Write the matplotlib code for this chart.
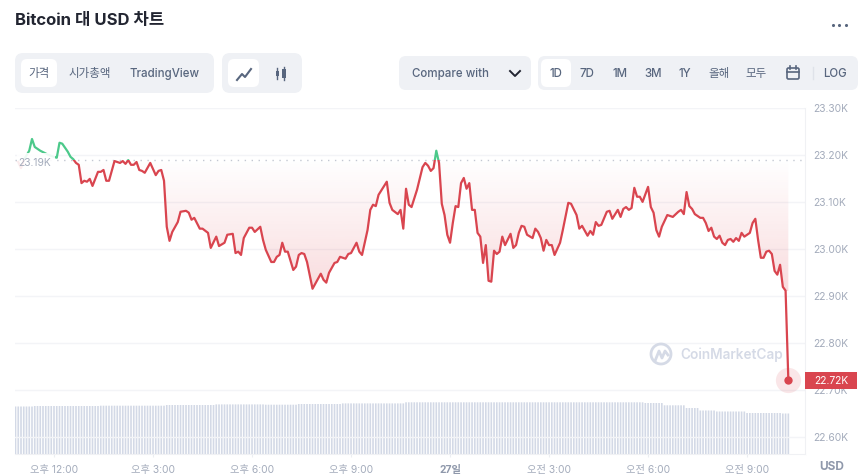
import numpy as np
import matplotlib
matplotlib.use("Agg")
import matplotlib.pyplot as plt
from matplotlib.patches import FancyBboxPatch, Rectangle, Circle
from matplotlib.path import Path

plt.rcParams['font.family'] = ['Inter', 'Noto Sans CJK KR', 'DejaVu Sans']

# minutes after 12:00 / price in USD
minutes = [
    -65, -60, -55, -45, -40, -35, -25, -10, 5, 10, 15, 25,
    30, 35, 40, 45, 50, 55, 60, 65, 70, 80,
    85, 90, 95, 100, 110, 115, 120, 125, 130, 135,
    140, 145, 150, 155, 160, 165, 175, 180, 185, 190,
    195, 200, 205, 210, 215, 225, 230, 240, 245, 250,
    255, 265, 270, 280, 285, 295, 300, 310, 315, 325,
    330, 335, 340, 345, 355, 360, 365, 375, 380, 385,
    395, 400, 405, 410, 415, 420, 425, 435, 440, 445,
    450, 455, 460, 470, 485, 490, 495, 500, 510, 515,
    520, 530, 535, 540, 550, 555, 560, 570, 575, 580,
    585, 590, 605, 610, 615, 625, 630, 635, 640, 645,
    650, 660, 670, 675, 680, 685, 690, 695, 700, 705,
    710, 715, 720, 725, 730, 735, 740, 745, 750, 755,
    760, 765, 770, 775, 780, 785, 790, 795, 800, 805,
    810, 815, 820, 830, 835, 840, 845, 850, 855, 860,
    870, 875, 880, 885, 890, 895, 900, 905, 910, 920,
    925, 935, 940, 950, 955, 960, 970, 975, 980, 985,
    990, 995, 1005, 1010, 1015, 1025, 1030, 1035, 1040, 1045,
    1050, 1055, 1060, 1065, 1070, 1080, 1085, 1090, 1095, 1100,
    1105, 1115, 1125, 1135, 1140, 1145, 1150, 1155, 1160, 1165,
    1175, 1180, 1185, 1190, 1195, 1200, 1205, 1210, 1215, 1220,
    1225, 1230, 1235, 1240, 1245, 1250, 1255, 1265, 1270, 1275,
    1280, 1285, 1290, 1295, 1300, 1305, 1310, 1315, 1320, 1325,
    1330, 1335,
]
prices = [
    23185, 23172, 23189, 23209, 23234, 23217, 23209, 23200, 23194, 23226, 23224, 23207,
    23196, 23191, 23183, 23179, 23140, 23145, 23143, 23149, 23134, 23164,
    23164, 23168, 23145, 23145, 23187, 23185, 23183, 23187, 23181, 23189,
    23179, 23179, 23185, 23168, 23166, 23162, 23183, 23170, 23157, 23166,
    23168, 23145, 23047, 23017, 23036, 23057, 23079, 23081, 23077, 23062,
    23066, 23043, 23043, 23034, 23002, 23026, 23006, 23013, 23030, 23032,
    22991, 22994, 22987, 23023, 23045, 23045, 23036, 23047, 23019, 22998,
    22972, 22972, 22983, 22987, 23013, 22994, 22994, 22955, 22962, 22987,
    22991, 22989, 22972, 22915, 22947, 22934, 22928, 22949, 22970, 22972,
    22983, 22979, 22989, 22991, 23013, 22994, 22987, 23040, 23083, 23094,
    23091, 23115, 23143, 23098, 23083, 23074, 23083, 23043, 23128, 23094,
    23089, 23126, 23174, 23183, 23177, 23166, 23172, 23209, 23183, 23096,
    23072, 23030, 23013, 23055, 23091, 23089, 23140, 23151, 23128, 23140,
    23083, 23083, 23034, 23026, 22970, 23008, 22932, 22930, 22996, 22989,
    22994, 23026, 23008, 23032, 23002, 23008, 23034, 23049, 23047, 23030,
    23023, 23043, 23036, 23023, 22996, 23019, 23008, 23008, 22987, 23013,
    23040, 23098, 23096, 23072, 23043, 23049, 23028, 23038, 23030, 23057,
    23049, 23051, 23079, 23081, 23064, 23083, 23068, 23085, 23089, 23083,
    23087, 23130, 23111, 23111, 23100, 23132, 23089, 23077, 23040, 23026,
    23047, 23072, 23068, 23079, 23083, 23074, 23121, 23091, 23085, 23074,
    23066, 23066, 23055, 23038, 23045, 23026, 23021, 23028, 23013, 23008,
    23019, 23021, 23015, 23023, 23017, 23034, 23026, 23034, 23055, 23064,
    23019, 22981, 22981, 22994, 22996, 22989, 22953, 22945, 22966, 22919,
    22911, 22721,
]
open_price = 23190

# volume bars, read as runs of about the same height (arbitrary units)
vol_levels = [47.5, 48, 48.3, 49, 49.6, 49.3, 50, 50.6, 51.7, 51, 48.7, 46, 43.5, 42.5, 41, 40.5]
vol_counts = [7, 24, 24, 18, 18, 12, 16, 23, 87, 7, 8, 5, 6, 11, 13, 3]

y_ticks = [22600, 22700, 22800, 22900, 23000, 23100, 23200, 23300]
y_labels = ['22.60K', '22.70K', '22.80K', '22.90K', '23.00K', '23.10K', '23.20K', '23.30K']
x_ticks = [0, 180, 360, 540, 720, 900, 1080, 1260]
x_labels = ['오후 12:00', '오후 3:00', '오후 6:00', '오후 9:00', '27일', '오전 3:00', '오전 6:00', '오전 9:00']

RED = '#d9454f'
GREEN = '#4cc98a'
GREY = '#a3abbb'
TEXT = '#58667e'
PANEL = '#eff1f5'

fig = plt.figure(figsize=(8.6, 4.75), dpi=100)
fig.patch.set_facecolor('white')
ax = fig.add_axes([15 / 860, 1 - 454 / 475, 790 / 860, 346 / 475])
xlim = (-70.9, 1365.3)
ylim = (22563, 23300)

# volume on its own hidden scale
vol_ax = ax.twinx()
vol_x = -70 + 5 * np.arange(sum(vol_counts))
bars = vol_ax.bar(vol_x, np.repeat(vol_levels, vol_counts), width=3.0, color='#d3d9e6', linewidth=0)
for b in bars:
    b.set_snap(False)
vol_ax.set_ylim(0, 346)
vol_ax.axis('off')
ax.set_zorder(vol_ax.get_zorder() + 1)
ax.patch.set_visible(False)

x = np.array(minutes)
y = np.array(prices)

ax.grid(axis='y', color='#f3f4f7', linewidth=1)
ax.set_axisbelow(True)

# gradient under the open price
poly = ax.fill_between(x, y, open_price, where=y <= open_price, interpolate=True, facecolor='none', linewidth=0)
clip = Path.make_compound_path(*poly.get_paths())
poly.remove()
grad = np.zeros((256, 1, 4))
grad[..., :3] = matplotlib.colors.to_rgb('#e0505a')
grad[..., 3] = np.linspace(0.2, 0.0, 256)[:, None]
im = ax.imshow(grad, extent=[xlim[0], xlim[1], 22910, open_price], origin='lower', aspect='auto', zorder=1)
im.set_clip_path(clip, transform=ax.transData)

ax.axhline(open_price, color='#c3c8d2', linewidth=1, linestyle=(0, (1, 4)), zorder=2)

red_line, = ax.plot(x, y, color=RED, linewidth=1.6, zorder=3, solid_joinstyle='round')
red_line.set_clip_path(Rectangle((xlim[0], ylim[0]), xlim[1] - xlim[0], open_price - ylim[0], transform=ax.transData))
green_line, = ax.plot(x, y, color=GREEN, linewidth=1.6, zorder=3, solid_joinstyle='round')
green_line.set_clip_path(Rectangle((xlim[0], open_price), xlim[1] - xlim[0], ylim[1] - open_price, transform=ax.transData))

ax.scatter(x[-1], y[-1], s=330, color=RED, alpha=0.13, linewidth=0, zorder=4, clip_on=False)
ax.scatter(x[-1], y[-1], s=36, color=RED, linewidth=0, zorder=5, clip_on=False)

ax.set_xlim(xlim)
ax.set_ylim(ylim)
ax.yaxis.tick_right()
ax.set_yticks(y_ticks, y_labels)
ax.set_xticks(x_ticks, x_labels)
ax.tick_params(axis='y', length=0, pad=6, labelsize=7.4, labelcolor=GREY)
ax.tick_params(axis='x', length=2, color='#eceef2', pad=6, labelsize=7.4, labelcolor=GREY)
ax.get_xticklabels()[4].set_fontweight('bold')
ax.get_xticklabels()[4].set_color('#8f98ab')
for side in ['top', 'left']:
    ax.spines[side].set_visible(False)
ax.spines['right'].set_color('#f0f1f4')
ax.spines['bottom'].set_color('#f0f1f4')

# page furniture, in pixel coordinates
ui = fig.add_axes([0, 0, 1, 1], zorder=10)
ui.set_xlim(0, 860)
ui.set_ylim(475, 0)
ui.axis('off')
ui.patch.set_visible(False)


def box(x0, y0, x1, y1, color, r=6):
    ui.add_patch(FancyBboxPatch((x0 + r, y0 + r), x1 - x0 - 2 * r, y1 - y0 - 2 * r,
                                boxstyle='round,pad=%d,rounding_size=%d' % (r, r),
                                facecolor=color, edgecolor='none'))


def label(cx, s, color=TEXT, weight='medium', size=8.3):
    ui.text(cx, 74, s, color=color, fontsize=size, fontweight=weight, ha='center', va='center')


ui.text(15, 20.5, 'Bitcoin 대 USD 차트', fontsize=12, fontweight='bold', color='#222531', ha='left', va='center')
ui.scatter([832.5, 839, 845.5], [25, 25, 25], s=5, color=TEXT, linewidth=0)

box(15, 53, 214, 93, PANEL, 8)
box(21, 59, 57, 87, 'white', 6)
label(39, '가격')
label(90, '시가총액')
label(165, 'TradingView')

box(222, 53, 302, 93, PANEL, 8)
box(228, 59, 259, 87, 'white', 6)
ui.plot([237, 242, 245, 251], [80, 74, 77, 69], color=TEXT, linewidth=1.5)
ui.plot([277, 277], [68, 79], color=TEXT, linewidth=1)
ui.plot([284, 284], [67, 80], color=TEXT, linewidth=1)
ui.add_patch(Rectangle((275.5, 71), 3, 5, color=TEXT, linewidth=0))
ui.add_patch(Rectangle((282, 69), 4, 9, color=TEXT, linewidth=0))

box(399, 56, 531, 90, PANEL, 7)
label(451, 'Compare with')
ui.plot([510, 515, 520], [71, 76, 71], color='#222531', linewidth=1.4)

box(538, 56, 858, 90, PANEL, 7)
box(541, 59, 571, 87, 'white', 6)
for cx, s in zip([556, 587, 620, 653, 685, 719, 756, 835], ['1D', '7D', '1M', '3M', '1Y', '올해', '모두', 'LOG']):
    label(cx, s)
ui.add_patch(FancyBboxPatch((787, 68), 12, 11, boxstyle='round,pad=0,rounding_size=1.5',
                            facecolor='none', edgecolor=TEXT, linewidth=1.2))
ui.plot([787, 799], [72, 72], color=TEXT, linewidth=1.2)
ui.plot([790, 790], [66, 69], color=TEXT, linewidth=1.2)
ui.plot([796, 796], [66, 69], color=TEXT, linewidth=1.2)
ui.plot([812.5, 812.5], [67, 79], color='#dfe2e9', linewidth=1)

# open price label hides the start of the line
ui.add_patch(Rectangle((17, 152.5), 38, 20, facecolor='white', edgecolor='none', alpha=0.9))
ui.text(18, 163, '23.19K', color=GREY, fontsize=7.4, ha='left', va='center')

# current price tag
ui.add_patch(Rectangle((805, 372), 52, 17, color=RED, linewidth=0))
ui.text(831, 381, '22.72K', color='white', fontsize=7.4, ha='center', va='center')

# watermark
ui.add_patch(Circle((661, 354), 10, facecolor='none', edgecolor='#d5dae6', linewidth=2))
ui.plot([655, 659, 662, 665, 668], [361, 351, 358, 351, 355], color='#d5dae6', linewidth=2)
ui.text(680, 355, 'CoinMarketCap', color='#d5dae6', fontsize=9.8, fontweight='semibold', ha='left', va='center')

ui.text(832, 467, 'USD', color='#8f98ab', fontsize=8.5, fontweight='bold', ha='center', va='center')

fig.savefig('out.png', dpi=100)
